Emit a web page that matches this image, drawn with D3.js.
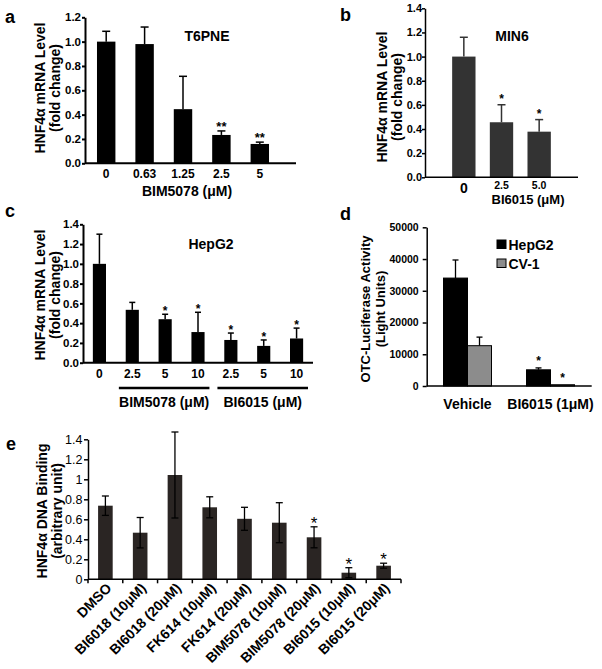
<!DOCTYPE html>
<html>
<head>
<meta charset="utf-8">
<script src="https://cdn.jsdelivr.net/npm/d3@7"></script>
<style>
body { margin: 0; background: #fff; }
text { font-family: "Liberation Sans", Arial, sans-serif; }
</style>
</head>
<body>
<svg id="fig" width="602" height="669"></svg>
<script>
// ---- panel a : T6PNE
var aDoses = ["0", "0.63", "1.25", "2.5", "5"];
var aMean = [1.0, 0.98, 0.445, 0.233, 0.159];
var aErr = [0.085, 0.14, 0.27, 0.033, 0.015];
var aStars = ["", "", "", "**", "**"];
var aTicks = [0, 0.2, 0.4, 0.6, 0.8, 1.0, 1.2];

// ---- panel b : MIN6
var bDoses = ["0", "2.5", "5.0"];
var bMean = [1.0, 0.456, 0.378];
var bErr = [0.16, 0.145, 0.10];
var bStars = ["", "*", "*"];
var bTicks = [0, 0.2, 0.4, 0.6, 0.8, 1.0, 1.2, 1.4];

// ---- panel c : HepG2
var cKeys = ["c0", "c1", "c2", "c3", "c4", "c5", "c6"];
var cDoses = ["0", "2.5", "5", "10", "2.5", "5", "10"];
var cMean = [1.0, 0.535, 0.44, 0.31, 0.23, 0.17, 0.245];
var cErr = [0.30, 0.075, 0.05, 0.20, 0.07, 0.06, 0.105];
var cStars = ["", "", "*", "*", "*", "*", "*"];
var cGroups = [
  {label: "BIM5078 (\u03bcM)", first: "c1", last: "c3"},
  {label: "BI6015 (\u03bcM)", first: "c4", last: "c6"}
];
var cTicks = [0, 0.2, 0.4, 0.6, 0.8, 1.0, 1.2, 1.4];

// ---- panel d : OTC luciferase
var dGroups = ["Vehicle", "BI6015 (1\u03bcM)"];
var dSeries = ["HepG2", "CV-1"];
var dHepG2 = [34000, 5100];
var dHepG2Err = [5700, 600];
var dCV1 = [12700, 400];
var dCV1Err = [2700, 0];
var dStars = [["", ""], ["*", "*"]];
var dTicks = [0, 10000, 20000, 30000, 40000, 50000];

// ---- panel e : DNA binding
var eLabels = ["DMSO", "BI6018 (10\u03bcM)", "BI6018 (20\u03bcM)", "FK614 (10\u03bcM)", "FK614 (20\u03bcM)",
  "BIM5078 (10\u03bcM)", "BIM5078 (20\u03bcM)", "BI6015 (10\u03bcM)", "BI6015 (20\u03bcM)"];
var eMean = [0.736, 0.466, 1.043, 0.72, 0.605, 0.566, 0.42, 0.066, 0.136];
var eErr = [0.097, 0.152, 0.43, 0.105, 0.115, 0.20, 0.105, 0.05, 0.025];
var eStars = ["", "", "", "", "", "", "*", "*", "*"];
var eTicks = [0, 0.2, 0.4, 0.6, 0.8, 1, 1.2, 1.4];

var svg = d3.select("#fig");

function yAxis(y, x0, ticks, fmt, size, weight, sw, tsize, tpad) {
  var g = svg.append("g")
    .attr("transform", "translate(" + x0 + ",0)")
    .call(d3.axisLeft(y).tickValues(ticks).tickFormat(fmt)
      .tickSize(tsize).tickSizeOuter(0).tickPadding(tpad));
  g.selectAll(".domain, .tick line").attr("stroke", "#000").attr("stroke-width", sw);
  g.selectAll("text")
    .attr("font-size", size)
    .attr("font-weight", weight)
    .attr("fill", "#000")
    .style("font-family", '"Liberation Sans", Arial, sans-serif');
  return g;
}

function hline(x1, x2, yv, sw, col) {
  svg.append("line").attr("x1", x1).attr("x2", x2).attr("y1", yv).attr("y2", yv)
    .attr("stroke", col || "#000").attr("stroke-width", sw);
}

function txt(x, y, s, size, weight, anchor, rot) {
  var t = svg.append("text").text(s)
    .attr("font-size", size)
    .attr("font-weight", weight || "bold")
    .attr("text-anchor", anchor || "middle");
  if (rot) t.attr("transform", "translate(" + x + "," + y + ") rotate(" + rot + ")");
  else t.attr("x", x).attr("y", y);
  return t;
}

function upBars(keys, mean, err, x, y, fill, capW, sw) {
  keys.forEach(function(k, i) {
    var cx = x(k) + x.bandwidth() / 2;
    svg.append("rect")
      .attr("x", x(k)).attr("width", x.bandwidth())
      .attr("y", y(mean[i])).attr("height", y(0) - y(mean[i]))
      .attr("fill", fill);
    if (err[i] > 0) {
      svg.append("line").attr("x1", cx).attr("x2", cx)
        .attr("y1", y(mean[i])).attr("y2", y(mean[i] + err[i]))
        .attr("stroke", fill).attr("stroke-width", sw);
      hline(cx - capW / 2, cx + capW / 2, y(mean[i] + err[i]), sw, fill);
    }
  });
}

function stars(keys, mean, err, stars, x, y, size, off) {
  keys.forEach(function(k, i) {
    if (!stars[i]) return;
    var cx = x(k) + x.bandwidth() / 2;
    txt(cx, y(mean[i] + err[i]) - off, stars[i], size, "bold");
  });
}

// ================= panel a
(function() {
  var y = d3.scaleLinear().domain([0, 1.2]).range([163.3, 17.3]);
  var x = d3.scaleBand().domain(aDoses).range([87, 279]).paddingInner(0.52).paddingOuter(0.26);
  upBars(aDoses, aMean, aErr, x, y, "#000", 8, 1.5);
  yAxis(y, 85, aTicks, d3.format(".1f"), 11.5, "bold", 2, 3, 1);
  hline(85, 296, y(0), 2);
  aDoses.forEach(function(d) { txt(x(d) + x.bandwidth() / 2, 177.5, d, 12, "bold"); });
  stars(aDoses, aMean, aErr, aStars, x, y, 13, 0);
  txt(187, 196, "BIM5078 (\u03bcM)", 14, "bold");
  txt(207, 41, "T6PNE", 14, "bold");
  txt(45, 88, "HNF4\u03b1 mRNA Level", 14, "bold", "middle", -90);
  txt(60, 88, "(fold change)", 14, "bold", "middle", -90);
  txt(5, 23, "a", 18, "bold", "start");
})();

// ================= panel b
(function() {
  var y = d3.scaleLinear().domain([0, 1.4]).range([177.3, 8.3]);
  var x = d3.scaleBand().domain(bDoses).range([445, 558]).paddingInner(0.38).paddingOuter(0.19);
  upBars(bDoses, bMean, bErr, x, y, "#333", 8, 1.5);
  yAxis(y, 425, bTicks, d3.format(".1f"), 11, "bold", 1.5, 3, 0);
  hline(425, 578, y(0), 1.5);
  bDoses.forEach(function(d, i) {
    txt(x(d) + x.bandwidth() / 2, i === 0 ? 193 : 188.5, d, i === 0 ? 14 : 10.5, "bold");
  });
  stars(bDoses, bMean, bErr, bStars, x, y, 12, 2);
  txt(528, 204, "BI6015 (\u03bcM)", 13, "bold");
  txt(512, 41, "MIN6", 14, "bold");
  txt(387, 97, "HNF4\u03b1 mRNA Level", 14, "bold", "middle", -90);
  txt(402, 97, "(fold change)", 14, "bold", "middle", -90);
  txt(340, 21, "b", 18, "bold", "start");
})();

// ================= panel c
(function() {
  var y = d3.scaleLinear().domain([0, 1.4]).range([362.7, 224.3]);
  var x = d3.scaleBand().domain(cKeys).range([83, 313]).paddingInner(0.6).paddingOuter(0.3);
  upBars(cKeys, cMean, cErr, x, y, "#000", 6, 1.5);
  yAxis(y, 83, cTicks, d3.format(".1f"), 11.5, "bold", 2, 3, 1);
  hline(83, 313, y(0), 2);
  cKeys.forEach(function(k, i) { txt(x(k) + x.bandwidth() / 2, 377.5, cDoses[i], 12, "bold"); });
  stars(cKeys, cMean, cErr, cStars, x, y, 12, -1);
  var step = x.step();
  cGroups.forEach(function(g) {
    var x1 = x(g.first) - step * x.paddingInner() / 2 + 3;
    var x2 = x(g.last) + x.bandwidth() + step * x.paddingInner() / 2 - 5;
    hline(x1, x2, 388, 2.5);
    txt((x1 + x2) / 2, 407, g.label, 14, "bold");
  });
  txt(211, 249, "HepG2", 14, "bold");
  txt(45, 295, "HNF4\u03b1 mRNA Level", 14, "bold", "middle", -90);
  txt(60, 295, "(fold change)", 14, "bold", "middle", -90);
  txt(5, 217, "c", 18, "bold", "start");
})();

// ================= panel d
(function() {
  var y = d3.scaleLinear().domain([0, 50000]).range([386, 227.3]);
  var x0 = d3.scaleBand().domain(dGroups).range([426, 592]);
  var x1 = d3.scaleBand().domain(dSeries).range([0, 48]);
  var vals = [dHepG2, dCV1], errs = [dHepG2Err, dCV1Err];
  var fills = ["#000", "#8c8c8c"];
  dGroups.forEach(function(g, gi) {
    var gx = x0(g) + x0.bandwidth() / 2 - 24;
    dSeries.forEach(function(s, si) {
      var v = vals[si][gi], e = errs[si][gi];
      var bx = gx + x1(s), cx = bx + x1.bandwidth() / 2;
      svg.append("rect").attr("x", bx).attr("width", x1.bandwidth())
        .attr("y", y(v)).attr("height", y(0) - y(v))
        .attr("fill", fills[si]).attr("stroke", "#000").attr("stroke-width", 1);
      if (e > 0) {
        svg.append("line").attr("x1", cx).attr("x2", cx).attr("y1", y(v)).attr("y2", y(v + e))
          .attr("stroke", "#000").attr("stroke-width", 1.3);
        hline(cx - 3, cx + 3, y(v + e), 1.3);
      }
      if (dStars[gi][si]) txt(cx, y(v + e) - 3, dStars[gi][si], 12, "bold");
    });
    txt(x0(g) + x0.bandwidth() / 2, 409, g, 14, "bold");
  });
  yAxis(y, 426.7, dTicks, d3.format("d"), 10.5, "bold", 1.5, 4, 4);
  hline(426.7, 591.7, y(0), 1.5);
  dSeries.forEach(function(s, si) {
    var ly = 240 + si * 19;
    svg.append("rect").attr("x", 497).attr("y", ly).attr("width", 9).attr("height", 8.5)
      .attr("fill", fills[si]).attr("stroke", "#000").attr("stroke-width", 1);
    txt(508.5, ly + 9.5, s, 14, "bold", "start");
  });
  txt(370, 309, "OTC-Luciferase Activity", 13, "bold", "middle", -90);
  txt(385, 309, "(Light Units)", 13, "bold", "middle", -90);
  txt(340, 220, "d", 18, "bold", "start");
})();

// ================= panel e
(function() {
  var y = d3.scaleLinear().domain([0, 1.4]).range([579.3, 439.3]);
  var x = d3.scaleBand().domain(eLabels).range([88, 401]).paddingInner(0.58).paddingOuter(0.29);
  var fill = "#2a2523";
  eLabels.forEach(function(k, i) {
    var cx = x(k) + x.bandwidth() / 2;
    var v = eMean[i], e = eErr[i];
    svg.append("rect").attr("x", x(k)).attr("width", x.bandwidth())
      .attr("y", y(v)).attr("height", y(0) - y(v)).attr("fill", fill);
    svg.append("line").attr("x1", cx).attr("x2", cx)
      .attr("y1", y(Math.max(0, v - e))).attr("y2", y(v + e))
      .attr("stroke", "#000").attr("stroke-width", 1.3);
    hline(cx - 3.5, cx + 3.5, y(v + e), 1.3);
    if (v - e > 0) hline(cx - 3.5, cx + 3.5, y(v - e), 1.3);
    if (eStars[i]) txt(cx, y(v + e) + 2, eStars[i], 17, "normal");
  });
  yAxis(y, 88, eTicks, function(d) { return String(+d.toFixed(1)); }, 12.5, "normal", 1.5, 4, 1.5);
  hline(88, 401, y(0), 1.5);
  // ticks at category boundaries
  var step = x.step();
  d3.range(eLabels.length + 1).forEach(function(i) {
    var bx = 88 + i * step;
    svg.append("line").attr("x1", bx).attr("x2", bx).attr("y1", y(0)).attr("y2", y(0) + 4)
      .attr("stroke", "#000").attr("stroke-width", 1.5);
  });
  eLabels.forEach(function(k) {
    txt(x(k) + x.bandwidth() / 2 + 7, 589, k, 14, "bold", "end", -45);
  });
  txt(47, 511, "HNF4\u03b1 DNA Binding", 14, "bold", "middle", -90);
  txt(62, 511, "(arbitrary unit)", 14, "bold", "middle", -90);
  txt(6, 450, "e", 18, "bold", "start");
})();
</script>
</body>
</html>
